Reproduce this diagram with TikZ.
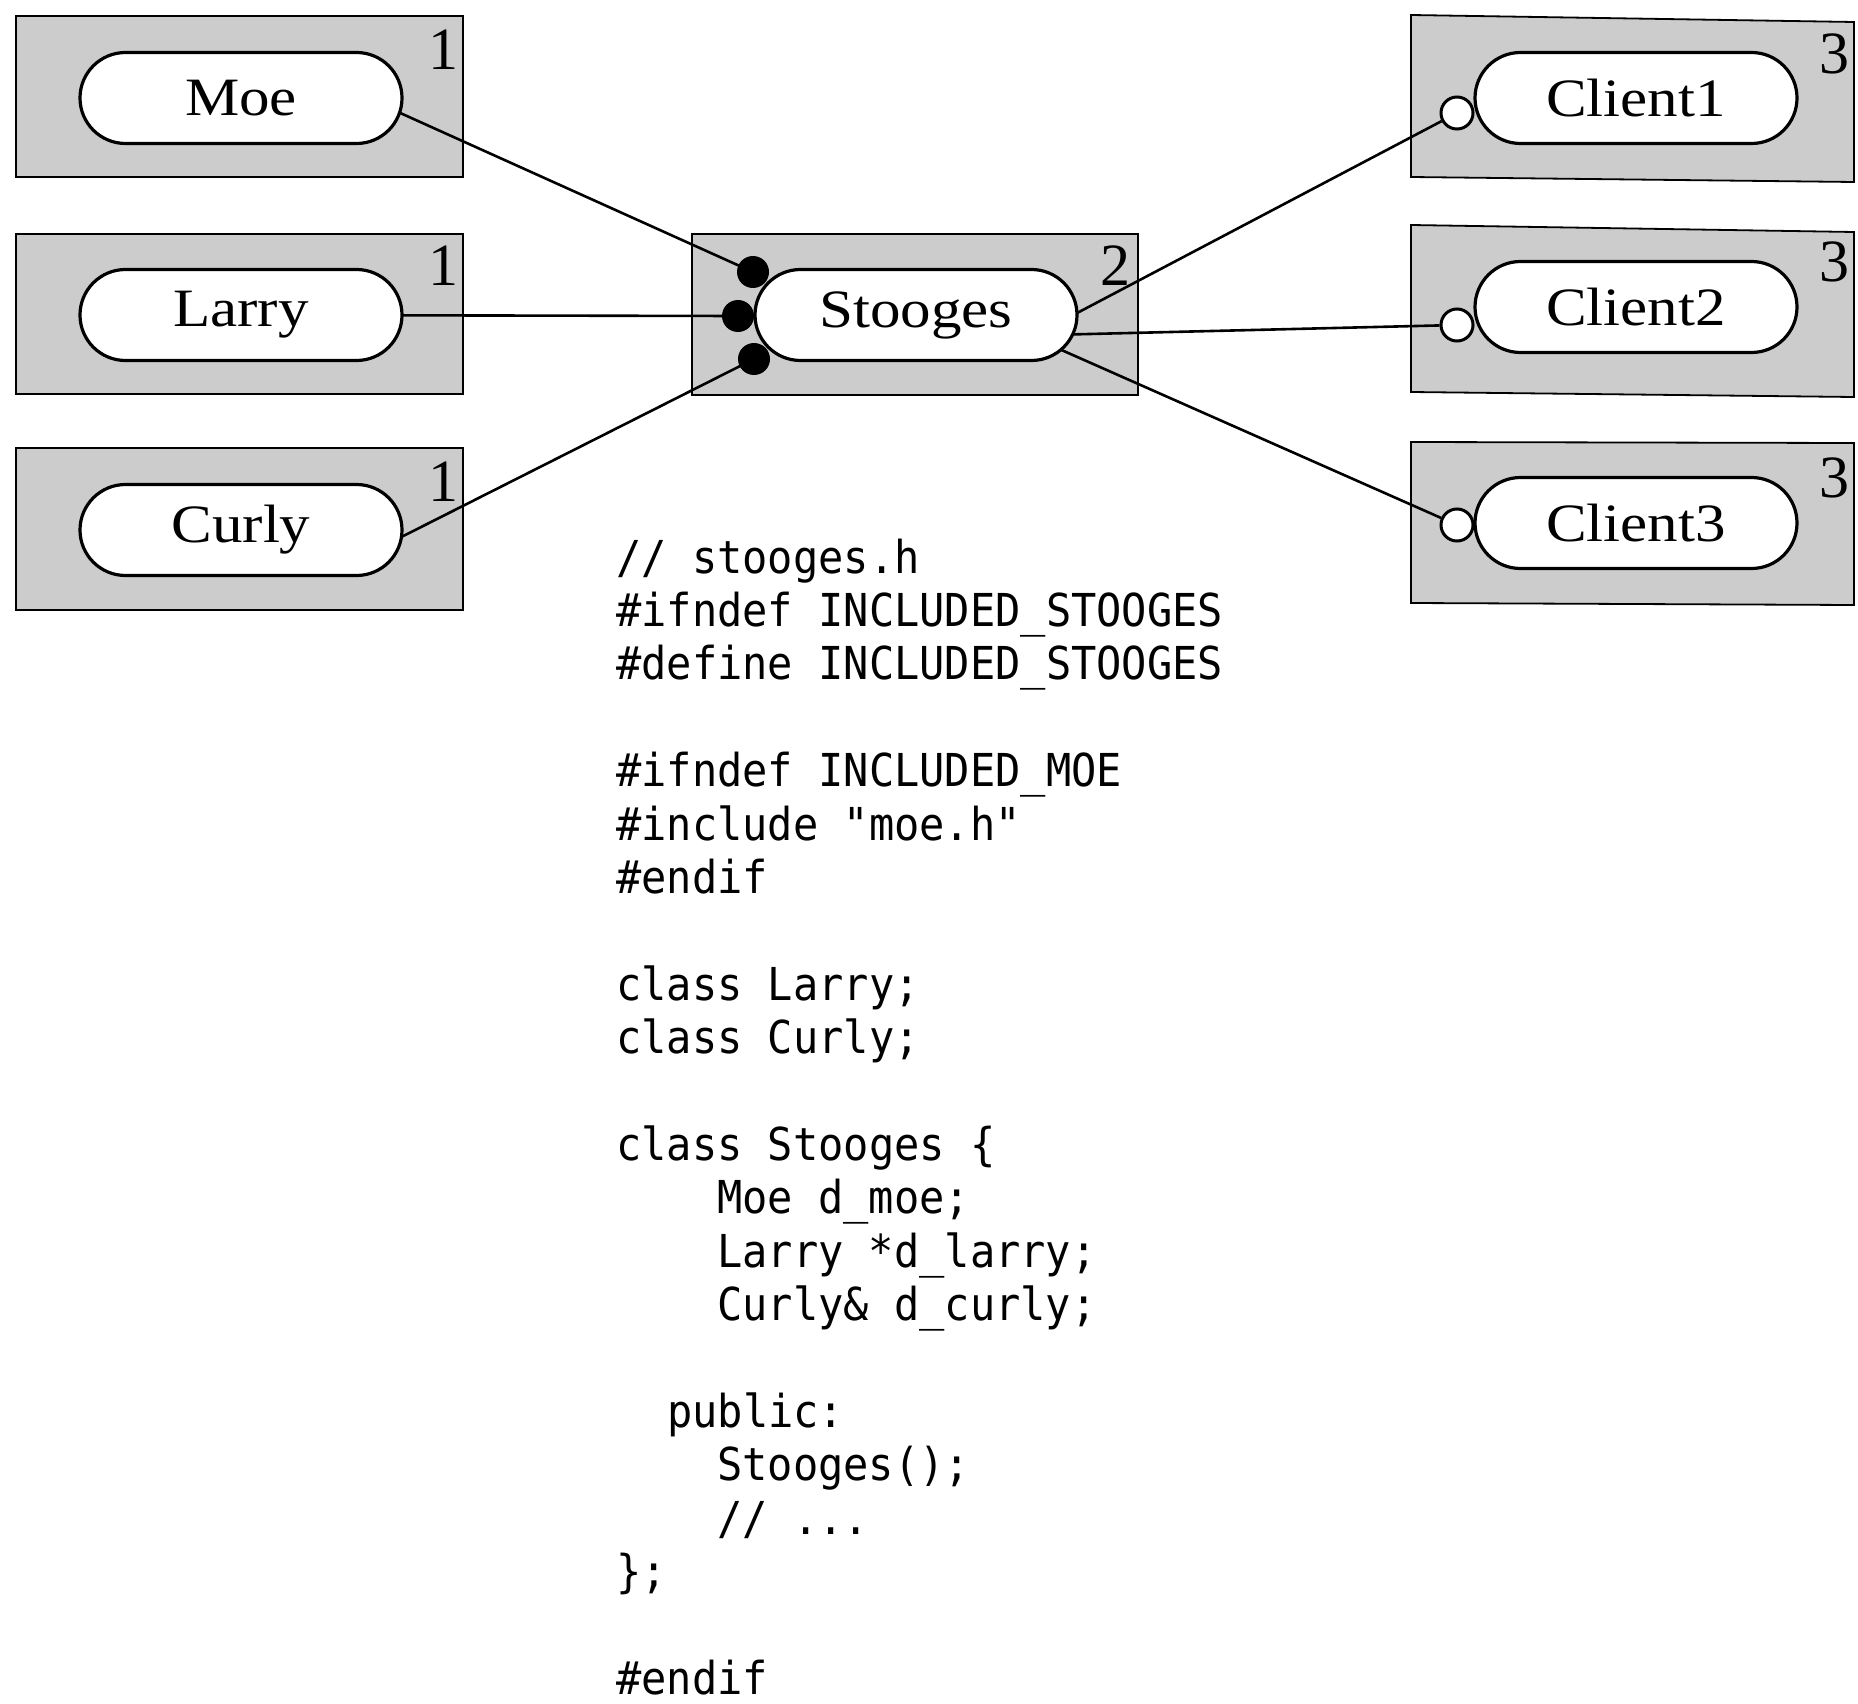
\documentclass[tikz,border=0pt]{standalone}
\usepackage{fontspec}
\setmonofont{DejaVu Sans Mono}
\newfontfamily\lblserif{Liberation Serif}
\usetikzlibrary{shapes.misc,calc}
\pgfdeclarelayer{bg}
\pgfdeclarelayer{lines}
\pgfsetlayers{bg,lines,main}
\newcommand{\lbl}[1]{\scalebox{1.13}[1]{#1}}
\newcommand{\cde}[1]{\scalebox{1}[1.08]{#1}}
\begin{document}
\begin{tikzpicture}[x=1pt,y=-1pt,
  box/.style={draw=black,line width=1.8pt,fill=black!20},
  pill/.style={rounded rectangle,draw=black,line width=3.2pt,fill=white,
    minimum width=322pt,minimum height=91pt,inner sep=0pt,
    font=\lblserif\fontsize{54}{60}\selectfont},
  num/.style={font=\lblserif\fontsize{60}{70}\selectfont,inner sep=0pt},
  bdot/.style={circle,fill=black,minimum size=32pt,inner sep=0pt},
  odot/.style={circle,draw=black,fill=white,line width=3pt,minimum size=32pt,inner sep=0pt},
  conn/.style={line width=2.6pt},
  codeline/.style={anchor=base west,inner sep=0pt,font=\ttfamily\fontsize{42}{50}\selectfont}
]
\useasboundingbox (0,0) rectangle (1858,1704);

% shaded boxes
\begin{pgfonlayer}{bg}
\path[box] (16,16) rectangle (463,177);
\path[box] (16,234) rectangle (463,394);
\path[box] (16,448) rectangle (463,610);
\path[box] (692,234) rectangle (1138,395);
\path[box] (1411,15) -- (1854,22) -- (1854,182) -- (1411,177) -- cycle;
\path[box] (1411,225) -- (1854,232) -- (1854,397) -- (1411,392) -- cycle;
\path[box] (1411,442) -- (1854,443) -- (1854,605) -- (1411,603) -- cycle;
\end{pgfonlayer}

% components
\node[pill] (moe) at (241,98) {\lbl{Moe}};
\node[pill] (larry) at (241,315) {\lbl{Larry}};
\node[pill] (curly) at (241,530) {\lbl{Curly}};
\node[pill] (stooges) at (916,315) {\lbl{Stooges}};
\node[pill] (client1) at (1636,98) {\lbl{Client1}};
\node[pill] (client2) at (1636,307) {\lbl{Client2}};
\node[pill] (client3) at (1636,523) {\lbl{Client3}};

% level numbers
\node[num] (n1) at (443,50) {1};
\node[num] (n2) at (443,266) {1};
\node[num] (n3) at (443,482) {1};
\node[num] (n4) at (1115,266) {2};
\node[num] (n5) at (1834,54) {3};
\node[num] (n6) at (1834,262) {3};
\node[num] (n7) at (1834,478) {3};

% connection dots
\node[bdot] (d1) at (753,272) {};
\node[bdot] (d2) at (738,316) {};
\node[bdot] (d3) at (754,359) {};
\node[odot] (c1) at (1457,113) {};
\node[odot] (c2) at (1457,325) {};
\node[odot] (c3) at (1457,525) {};

% connectors
\begin{pgfonlayer}{lines}
\draw[conn] ($(moe.east)+(-30,3)$) -- (d1.center);
\draw[conn] (larry.center) -- (d2.center);
\draw[conn] ($(curly.east)+(-30,21)$) -- (d3.center);
\draw[conn] ($(stooges.east)+(-30,13)$) -- (c1);
\draw[conn] ($(stooges.east)+(-30,20)$) -- (c2);
\draw[conn] ($(stooges.east)+(-42,24)$) -- (c3);
\end{pgfonlayer}

% code
\node[codeline] (k1)  at (616,573.0)  {\cde{// stooges.h}};
\node[codeline] (k2)  at (616,626.4)  {\cde{\#ifndef INCLUDED\_STOOGES}};
\node[codeline] (k3)  at (616,679.8)  {\cde{\#define INCLUDED\_STOOGES}};
\node[codeline] (k4)  at (616,786.6)  {\cde{\#ifndef INCLUDED\_MOE}};
\node[codeline] (k5)  at (616,840.0)  {\cde{\#include "moe.h"}};
\node[codeline] (k6)  at (616,893.4)  {\cde{\#endif}};
\node[codeline] (k7)  at (616,1000.2) {\cde{class Larry;}};
\node[codeline] (k8)  at (616,1053.6) {\cde{class Curly;}};
\node[codeline] (k9)  at (616,1160.4) {\cde{class Stooges \{}};
\node[codeline] (k10) at (717,1213.8) {\cde{Moe d\_moe;}};
\node[codeline] (k11) at (717,1267.2) {\cde{Larry *d\_larry;}};
\node[codeline] (k12) at (717,1320.6) {\cde{Curly\& d\_curly;}};
\node[codeline] (k13) at (667,1427.4) {\cde{public:}};
\node[codeline] (k14) at (717,1480.8) {\cde{Stooges();}};
\node[codeline] (k15) at (717,1534.2) {\cde{// ...}};
\node[codeline] (k16) at (616,1587.6) {\cde{\};}};
\node[codeline] (k17) at (616,1694.4) {\cde{\#endif}};
\end{tikzpicture}
\end{document}
